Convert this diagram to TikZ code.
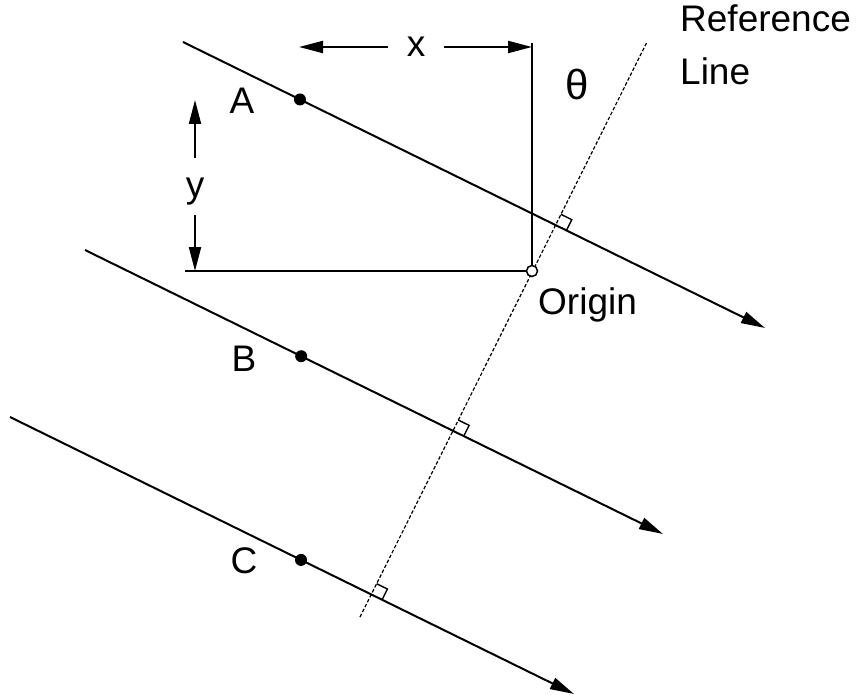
\documentclass[tikz,border=0pt]{standalone}
\usepackage{fontspec}
\setmainfont{Liberation Sans}
\usetikzlibrary{arrows.meta,calc}
\begin{document}
\begin{tikzpicture}[x=1pt,y=-1pt,
  ln/.style={line width=2pt},
  arr/.style={ln,-{Triangle[length=24pt,width=12pt]}},
  lbl/.style={font=\fontsize{37}{53}\selectfont, inner sep=0pt},
  refl/.style={line width=1.2pt, dash pattern=on 3.5pt off 2pt},
  dotp/.style={fill=black, circle, inner sep=0pt, minimum size=12pt},
  orig/.style={draw, circle, fill=white, line width=1.5pt, inner sep=0pt, minimum size=11pt},
  rmark/.style={line width=1.4pt}]
\useasboundingbox (0,0) rectangle (859,695);
% main lines
\coordinate (As) at (183,42);  \coordinate (Ae) at (765,328);
\coordinate (Bs) at (85,250);  \coordinate (Be) at (663,534);
\coordinate (Cs) at (10,417);  \coordinate (Ce) at (574,694);
% reference line
\coordinate (Rb) at (360,617); \coordinate (Rt) at (647,42);
\draw[refl] (Rb) -- (Rt);
\draw[arr] (As) -- (Ae);
\draw[arr] (Bs) -- (Be);
\draw[arr] (Cs) -- (Ce);
% right-angle marks
\coordinate (IA) at (intersection of As--Ae and Rb--Rt);
\coordinate (IB) at (intersection of Bs--Be and Rb--Rt);
\coordinate (IC) at (intersection of Cs--Ce and Rb--Rt);
\foreach \s/\e in {A/Ae, B/Be, C/Ce} {
  \coordinate (P\s) at ($(I\s)!12pt!(\e)$);
  \coordinate (Q\s) at ($(I\s)!12pt!(Rt)$);
  \draw[rmark] (P\s) -- ($(P\s)+(Q\s)-(I\s)$) -- (Q\s);
}
% points
\node[dotp] (dA) at ($(As)!0.201!(Ae)$) {};
\node[dotp] (dB) at ($(Bs)!0.374!(Be)$) {};
\node[dotp] (dC) at ($(Cs)!0.516!(Ce)$) {};
\node[lbl] (lA) at (242,101) {A};
\node[lbl] (lB) at (244,359) {B};
\node[lbl] (lC) at (244,561) {C};
% origin and x/y construction
\coordinate (Vt) at (532,43);
\coordinate (Hl) at (185,271);
\node[orig] (O) at (532,271) {};
\draw[ln] (O) -- (Vt);
\draw[ln] (O) -- (Hl);
\node[lbl, inner xsep=19pt] (xlab) at (416,47) {x};
\coordinate (xl) at (299,47);
\coordinate (xr) at (532,47);
\draw[arr] (xlab) -- (xl);
\draw[arr] (xlab) -- (xr);
\node[lbl, anchor=base] (ylab) at (195,198) {y};
\coordinate (yu0) at (195,158); \coordinate (yu) at (195,100);
\coordinate (yd0) at (195,215); \coordinate (yd) at (195,271);
\draw[arr] (yu0) -- (yu);
\draw[arr] (yd0) -- (yd);
% labels
\node[lbl, font=\fontsize{42}{50}\selectfont] (th) at (577,85) {θ};
\node[lbl, anchor=base west] (lO) at (538,314) {Origin};
\node[lbl, anchor=north west, align=left] (lR) at (680,5) {Reference\\Line};
\end{tikzpicture}
\end{document}
